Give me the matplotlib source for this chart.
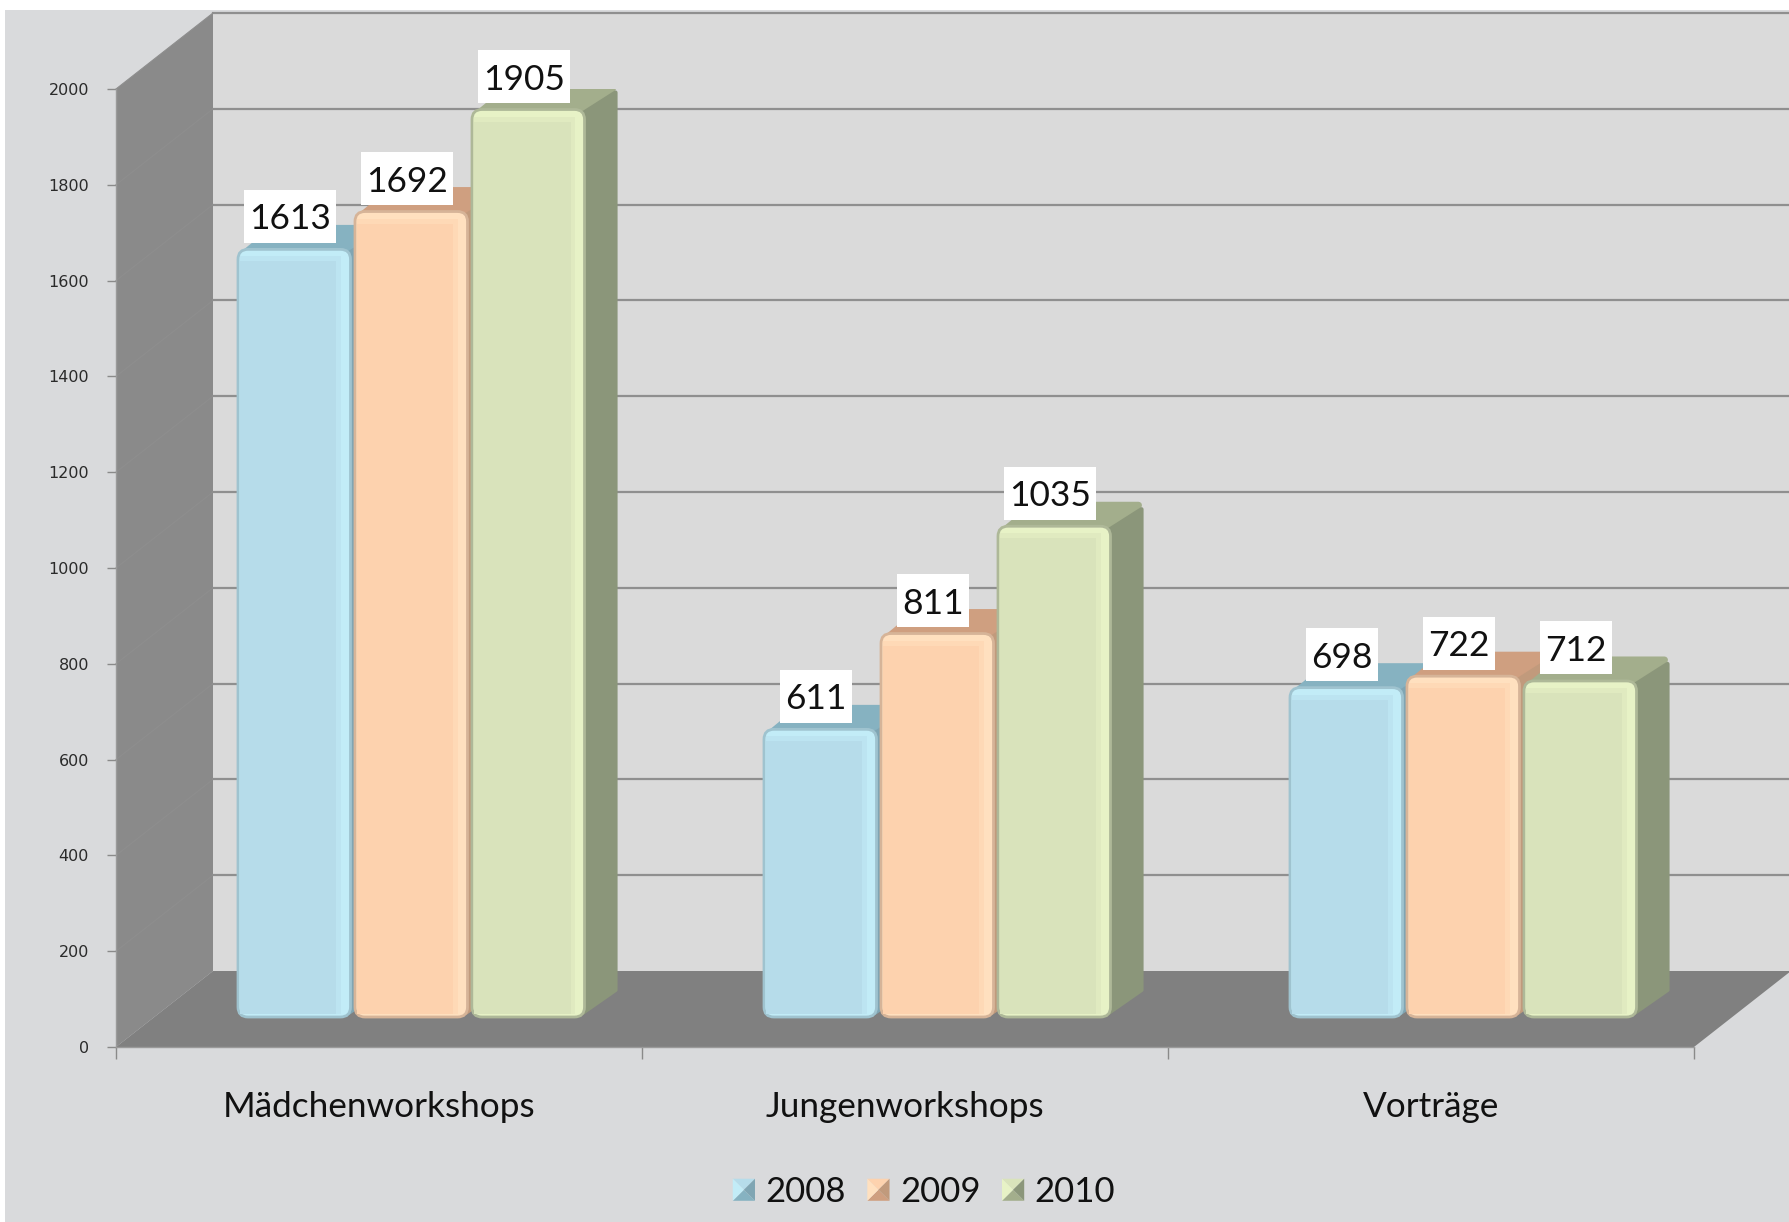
import numpy as np
import matplotlib
matplotlib.use("Agg")
import matplotlib.pyplot as plt
from matplotlib.patches import FancyBboxPatch, Polygon, Rectangle, Patch
from matplotlib.legend_handler import HandlerBase

categories = ["Mädchenworkshops", "Jungenworkshops", "Vorträge"]
years = ["2008", "2009", "2010"]
values_2008 = [1613, 611, 698]
values_2009 = [1692, 811, 722]
values_2010 = [1905, 1035, 712]
y_ticks = [0, 200, 400, 600, 800, 1000, 1200, 1400, 1600, 1800, 2000]

# face, highlight, edge, top, side, soft band
colors_2008 = ["#b6dcea", "#c2ecf7", "#9fc3cf", "#86b2c1", "#7fa5b3", "#bce4f1"]
colors_2009 = ["#fdd2ae", "#ffe0bf", "#d6b498", "#cf9f80", "#c19a7c", "#fed9b6"]
colors_2010 = ["#d9e3bb", "#e7f2c6", "#aeb898", "#a3ae8c", "#8b967a", "#e0eac0"]

W, H = 1790, 1222
LEFT, RIGHT, BOTTOM, TOP = 116, 1694, 1047, 89
PX_X = (RIGHT - LEFT) / 3.0
PX_Y = (BOTTOM - TOP) / 2000.0


def px_x(p):
    return p / PX_X


def px_y(p):
    return p / PX_Y


plt.rcParams["font.family"] = ["Lato", "DejaVu Sans"]
fig = plt.figure(figsize=(W / 100, H / 100), dpi=100, facecolor="#d9dadc")
ax = fig.add_axes([LEFT / W, 1 - BOTTOM / H, (RIGHT - LEFT) / W, (BOTTOM - TOP) / H])
ax.set_xlim(0, 3)
ax.set_ylim(0, 2000)
ax.patch.set_visible(False)

# 3D box depth
DX, DY = px_x(97), px_y(76)
ax.add_patch(Rectangle((DX, DY), 3, 2000, fc="#dadada", ec="none", clip_on=False, zorder=0))
ax.add_patch(Polygon([(0, 0), (DX, DY), (DX, 2000 + DY), (0, 2000)], fc="#8a8a8a", ec="none",
                     clip_on=False, zorder=1))
ax.add_patch(Polygon([(0, 0), (3, 0), (3 + DX, DY), (DX, DY)], fc="#808080", ec="none",
                     clip_on=False, zorder=1))
for v in y_ticks[1:]:
    ax.plot([DX, 3 + DX], [v + DY, v + DY], color="#8f8f8f", lw=1.6, clip_on=False, zorder=1)
    ax.plot([0, DX], [v, v + DY], color="#8e8e8e", lw=0.8, clip_on=False, zorder=1)

# bars
bar_w = px_x(112.5)
bar_step = px_x(117)
start = px_x(122)
base = px_y(25)
side_x, side_top, side_low = px_x(33), px_y(25), px_y(27)
r = 10


def draw_bar(x0, v, c, z):
    x1 = x0 + bar_w
    y0 = base + px_y(5)
    y1 = base + v
    ax.add_patch(Polygon([(x0 + px_x(9), y1 - px_y(2)), (x1 - px_x(4), y1 - px_y(2)),
                          (x1 + side_x - px_x(5), y1 + side_top - px_y(4)),
                          (x0 + side_x + px_x(4), y1 + side_top - px_y(4))],
                         fc=c[3], ec=c[3], lw=5, joinstyle="round", zorder=z))
    ax.add_patch(Polygon([(x1 - px_x(2), y0 + px_y(4)), (x1 + side_x - px_x(2), y0 + side_low),
                          (x1 + side_x - px_x(2), y1 + side_top - px_y(8)), (x1 - px_x(2), y1 - px_y(4))],
                         fc=c[4], ec=c[4], lw=3, joinstyle="round", zorder=z))
    # boxes are rounded in x units and stretched along y by mutation_aspect
    ax.add_patch(FancyBboxPatch((x0, y0), bar_w, y1 - y0, boxstyle=f"round,pad=0,rounding_size={px_x(r)}",
                                mutation_aspect=px_y(r) / px_x(r), fc=c[1], ec=c[2], lw=2, zorder=z))
    ax.add_patch(Rectangle((x0 + px_x(2), y0 + px_y(3)), bar_w - px_x(11), y1 - y0 - px_y(10),
                           fc=c[5], ec="none", zorder=z))
    ax.add_patch(Rectangle((x0 + px_x(2), y0 + px_y(3)), bar_w - px_x(16), y1 - y0 - px_y(15),
                           fc=c[0], ec="none", zorder=z))


series = [values_2008, values_2009, values_2010]
series_colors = [colors_2008, colors_2009, colors_2010]
for i in range(len(categories)):
    for j in range(len(years)):
        draw_bar(i + start + j * bar_step, series[j][i], series_colors[j], 3 + i + j * 0.1)

# value labels
for i in range(len(categories)):
    for j in range(len(years)):
        v = series[j][i]
        xc = i + start + j * bar_step + bar_w / 2 - px_x(4)
        yc = base + v + px_y(33)
        s = str(v)
        bw = px_x(14 + 19.5 * len(s))
        bh = px_y(53)
        ax.add_patch(Rectangle((xc - bw / 2, yc - bh / 2), bw, bh, fc="white", ec="none", clip_on=False, zorder=10))
        ax.text(xc, yc, s, ha="center", va="center_baseline", fontsize=25.5, color="#111111", zorder=11, clip_on=False)

# axes
for side in ["top", "right"]:
    ax.spines[side].set_visible(False)
for side in ["left", "bottom"]:
    ax.spines[side].set_color("#9a9a9a")
    ax.spines[side].set_linewidth(1)
    ax.spines[side].set_zorder(2)
ax.set_yticks(y_ticks)
ax.tick_params(axis="y", length=6.5, width=1, color="#8a8a8a", labelsize=11.5, pad=13, labelcolor="#2a2a2a")
for t in ax.get_yticklabels():
    t.set_family("DejaVu Sans")
ax.set_xticks([0, 1, 2, 3])
ax.set_xticklabels([])
ax.tick_params(axis="x", which="major", length=8.5, width=1, color="#8a8a8a")
ax.set_xticks([0.5, 1.5, 2.5], minor=True)
ax.set_xticklabels(categories, minor=True)
ax.tick_params(axis="x", which="minor", length=0, labelsize=25.3, pad=31.5, labelcolor="#111111")


class PyramidHandler(HandlerBase):
    def create_artists(self, legend, orig, xd, yd, width, height, fontsize, trans):
        c = orig.colors
        x0, y0 = -xd, -yd
        cx, cy = x0 + width / 2, y0 + height / 2
        x1, y1 = x0 + width, y0 + height
        tris = [([(x0, y1), (x1, y1), (cx, cy)], c[0]), ([(x0, y0), (x1, y0), (cx, cy)], c[3]),
                ([(x0, y0), (x0, y1), (cx, cy)], c[1]), ([(x1, y0), (x1, y1), (cx, cy)], c[4])]
        return [Polygon(p, fc=col, ec="none", transform=trans) for p, col in tris]


handles = []
for y, c in zip(years, series_colors):
    h = Patch(label=y)
    h.colors = c
    handles.append(h)
leg = fig.legend(handles=handles, loc="center", bbox_to_anchor=(924 / W, 1 - 1192 / H), ncols=3, frameon=False,
                 fontsize=25, handlelength=0.64, handleheight=0.6, handletextpad=0.3, columnspacing=0.62,
                 borderpad=0, labelcolor="#111111", handler_map={Patch: PyramidHandler()})

# white margin of the screenshot
fig.add_artist(Rectangle((0, 1 - 10 / H), 1, 10 / H, fc="white", ec="none", transform=fig.transFigure, zorder=20))
fig.add_artist(Rectangle((0, 0), 5 / W, 1, fc="white", ec="none", transform=fig.transFigure, zorder=20))

fig.savefig("out.png", dpi=100, facecolor=fig.get_facecolor())
